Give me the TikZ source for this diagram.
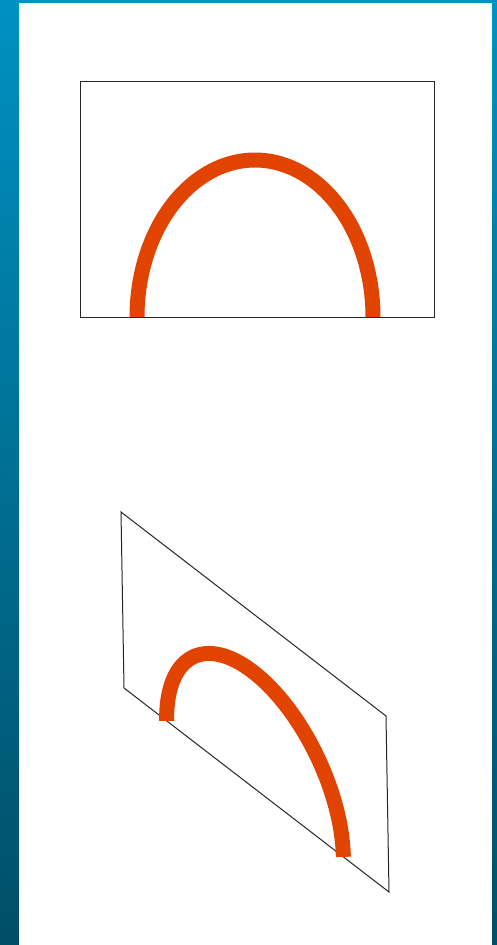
\documentclass[tikz,border=0pt]{standalone}
\definecolor{laranja}{RGB}{224,68,0}
\definecolor{azulalto}{RGB}{0,145,194}
\definecolor{azulbaixo}{RGB}{0,78,102}
\tikzset{
  arco/.style={laranja, line width=15pt},
  quadro/.style={black!85, line width=1pt, line join=miter},
}
% placa com o arco, em coordenadas locais (origem no canto inferior esquerdo)
\newcommand{\placa}{%
  \draw[quadro] (0,0) -- (354,0) -- (354,236) -- (0,236) -- cycle;
  \draw[arco] plot[domain=180:0, samples=90, smooth] ({175+118*cos(\x)}, {157*sin(\x)});
}
\begin{document}
\begin{tikzpicture}[x=1pt, y=-1pt]
  \useasboundingbox (0,0) rectangle (497,945);

  % ---------------- fundo ----------------
  \shade[top color=azulalto, bottom color=azulbaixo] (0,0) rectangle (497,945);
  \fill[white] (19,3) rectangle (492,945);

  % ---------------- vista frontal ----------------
  \begin{scope}[shift={(80pt,-317pt)}, x={(1pt,0pt)}, y={(0pt,1pt)}]
    \placa
  \end{scope}

  % ---------------- vista inclinada ----------------
  \begin{scope}[shift={(124pt,-688pt)}, x={(0.7486pt,-0.5763pt)}, y={(-0.0127pt,0.7458pt)}]
    \placa
  \end{scope}
\end{tikzpicture}
\end{document}
